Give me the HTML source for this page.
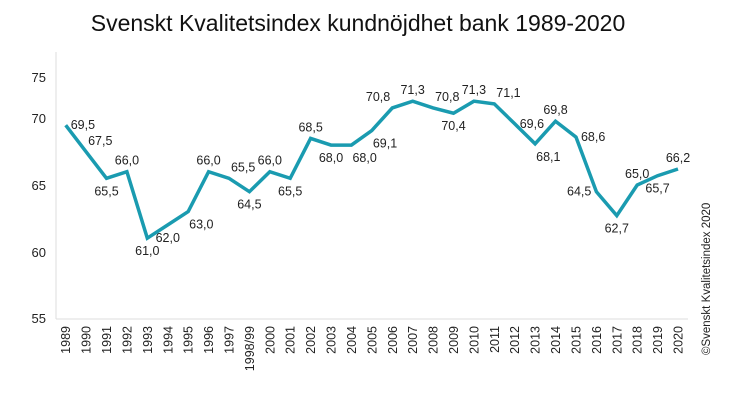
<!DOCTYPE html>
<html><head><meta charset="utf-8"><style>
body{margin:0;background:#fff;}
svg{display:block;font-family:"Liberation Sans","DejaVu Sans",sans-serif;}
</style></head><body>
<svg width="746" height="419" viewBox="0 0 746 419" xmlns="http://www.w3.org/2000/svg">
<text x="358" y="31" font-size="23" text-anchor="middle" fill="#111">Svenskt Kvalitetsindex kundnöjdhet bank 1989-2020</text>
<g font-size="13" fill="#222" text-anchor="end">
<text x="46" y="82">75</text>
<text x="46" y="123">70</text>
<text x="46" y="190">65</text>
<text x="46" y="257">60</text>
<text x="46" y="323">55</text>
</g>
<line x1="56" y1="52" x2="56" y2="319" stroke="#ddd"/>
<line x1="56" y1="319" x2="688" y2="319" stroke="#ddd"/>
<polyline id="ln" fill="none" stroke="#1a9bb0" stroke-width="3.5" stroke-linejoin="miter" points=""/>
<g id="lab" font-size="12.5" fill="#222"></g>
<g id="xl" font-size="12.5" fill="#222"></g>
<text transform="translate(710,355) rotate(-90)" font-size="11.5" fill="#222">©Svenskt Kvalitetsindex 2020</text>
<script>
var d=[69.5,67.5,65.5,66.0,61.0,62.0,63.0,66.0,65.5,64.5,66.0,65.5,68.5,68.0,68.0,69.1,70.8,71.3,70.8,70.4,71.3,71.1,69.6,68.1,69.8,68.6,64.5,62.7,65.0,65.7,66.2];
var yrs=["1989","1990","1991","1992","1993","1994","1995","1996","1997","1998/99","2000","2001","2002","2003","2004","2005","2006","2007","2008","2009","2010","2011","2012","2013","2014","2015","2016","2017","2018","2019","2020"];
var pos=["r","ar","b","a","b","b","br","a","ar","b","a","b","a","b","br","br","al","a","ar","b","a","ar","rr","br","a","r","l","b","a","b","a"];
function X(i){return 65.7+i*20.41;}
function Y(v){return 118.5+(70-v)*13.3;}
var pts=d.map(function(v,i){return X(i).toFixed(1)+","+Y(v).toFixed(1)}).join(" ");
document.getElementById("ln").setAttribute("points",pts);
var ns="http://www.w3.org/2000/svg",g=document.getElementById("lab"),xl=document.getElementById("xl");
d.forEach(function(v,i){
 var x=X(i),y=Y(v),p=pos[i],t=document.createElementNS(ns,"text"),a="middle",tx=x,ty=y;
 if(p=="r"){tx=x+5;ty=y+4;a="start";}
 else if(p=="rr"){tx=x+5;ty=y+4;a="start";}
 else if(p=="l"){tx=x-5;ty=y+4;a="end";}
 else if(p=="a"){ty=y-7;}
 else if(p=="b"){ty=y+17;}
 else if(p=="ar"){tx=x+2;ty=y-7;a="start";}
 else if(p=="al"){tx=x-2;ty=y-7;a="end";}
 else if(p=="br"){tx=x+1;ty=y+17;a="start";}
 t.setAttribute("x",tx);t.setAttribute("y",ty);t.setAttribute("text-anchor",a);
 t.textContent=v.toFixed(1).replace(".",",");g.appendChild(t);
 var s=document.createElementNS(ns,"text");
 s.setAttribute("transform","translate("+(x+4.5)+",326) rotate(-90)");
 s.setAttribute("text-anchor","end");s.textContent=yrs[i];xl.appendChild(s);
});
</script>
</svg>
</body></html>
